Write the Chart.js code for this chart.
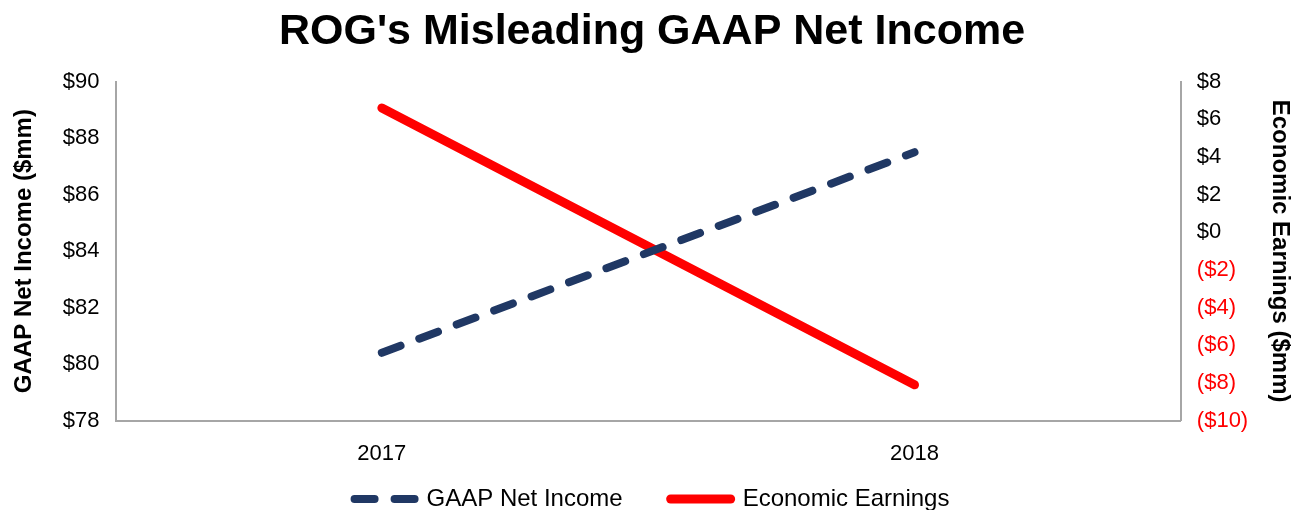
<!DOCTYPE html>
<html>
<head>
<meta charset="utf-8">
<script src="https://cdn.jsdelivr.net/npm/chart.js@4"></script>
<style>
  html, body { margin: 0; padding: 0; background: #fff; overflow: hidden; }
  #wrap { width: 1299px; height: 510px; overflow: hidden; }
</style>
</head>
<body>
<div id="wrap"><canvas id="myChart" width="1299" height="521"></canvas></div>
<script>
// 資料
const years = ['2017', '2018'];
const gaapNetIncome = [80.4, 87.5];
const economicEarnings = [6.6, -8.1];

function money(v) {
    if (v < 0) return '($' + Math.abs(v) + ')';
    return '$' + v;
}

function renderChart() {
    var ctx = document.getElementById('myChart').getContext('2d');
    Chart.defaults.font.family = '"Liberation Sans", Arial, sans-serif';
    Chart.defaults.color = '#000';
    var myChart = new Chart(ctx, {
        type: 'line',
        data: {
            labels: years,
            datasets: [{
                label: 'GAAP Net Income',
                data: gaapNetIncome,
                yAxisID: 'y',
                borderColor: '#203864',
                backgroundColor: '#203864',
                borderWidth: 8,
                borderDash: [20, 20],
                borderCapStyle: 'round',
                pointRadius: 0,
                tension: 0
            }, {
                label: 'Economic Earnings',
                data: economicEarnings,
                yAxisID: 'y1',
                borderColor: '#ff0000',
                backgroundColor: '#ff0000',
                borderWidth: 9,
                borderCapStyle: 'round',
                pointRadius: 0,
                tension: 0
            }]
        },
        options: {
            responsive: false,
            animation: false,
            layout: { padding: { left: 8, right: 3, top: 0, bottom: 0 } },
            plugins: {
                title: {
                    display: true,
                    text: "ROG's Misleading GAAP Net Income",
                    font: { size: 43, weight: 'bold' },
                    color: '#000',
                    padding: { top: 6, bottom: 24 }
                },
                legend: {
                    position: 'bottom',
                    labels: {
                        usePointStyle: true,
                        pointStyle: 'line',
                        pointStyleWidth: 60,
                        font: { size: 24 },
                        color: '#000',
                        padding: 8,
                        generateLabels: function (chart) {
                            var items = Chart.defaults.plugins.legend.labels.generateLabels(chart);
                            items.forEach(function (item, i) {
                                var ds = chart.data.datasets[item.datasetIndex];
                                item.lineDash = ds.borderDash || [];
                                item.lineCap = 'round';
                                item.lineWidth = ds.borderWidth;
                                item.strokeStyle = ds.borderColor;
                                if (i === 0) item.text = item.text + '      ';
                            });
                            return items;
                        }
                    }
                },
                tooltip: { enabled: false }
            },
            scales: {
                x: {
                    offset: true,
                    grid: { display: false },
                    border: { display: true, color: '#a6a6a6', width: 2 },
                    ticks: { font: { size: 22 }, color: '#000', padding: 12 }
                },
                y: {
                    position: 'left',
                    min: 78,
                    max: 90,
                    grid: { display: false },
                    border: { display: true, color: '#a6a6a6', width: 2 },
                    ticks: { stepSize: 2, font: { size: 22 }, color: '#000', padding: 8, callback: function (v) { return money(v); } },
                    title: { display: true, text: 'GAAP Net Income ($mm)', font: { size: 24, weight: 'bold' }, color: '#000', padding: { top: 2, bottom: 16 } }
                },
                y1: {
                    position: 'right',
                    min: -10,
                    max: 8,
                    grid: { display: false },
                    border: { display: true, color: '#a6a6a6', width: 2 },
                    ticks: {
                        stepSize: 2,
                        font: { size: 22 },
                        padding: 8,
                        color: function (c) { return c.tick.value < 0 ? '#ff0000' : '#000'; },
                        callback: function (v) { return money(v); }
                    },
                    title: { display: true, text: 'Economic Earnings ($mm)', font: { size: 24, weight: 'bold' }, color: '#000', padding: { top: 2, bottom: 9 } }
                }
            }
        }
    });
}

renderChart();
</script>
</body>
</html>
